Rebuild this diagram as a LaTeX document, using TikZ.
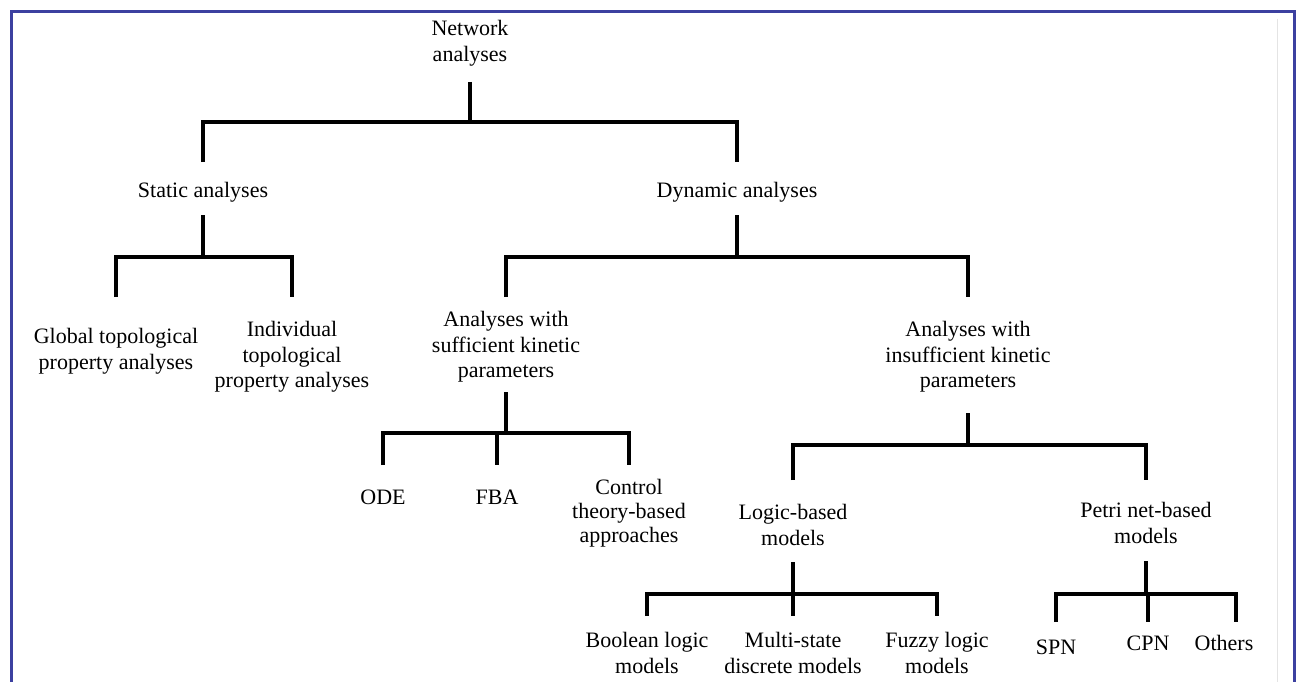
\documentclass[tikz,border=0pt]{standalone}
\usepackage{fontspec}
\setmainfont{Liberation Serif}
\definecolor{frameblue}{HTML}{3C40A0}
\definecolor{faintgray}{HTML}{E4E4E4}
\begin{document}
\begin{tikzpicture}[x=1pt,y=-1pt,
  lbl/.style={inner sep=0pt, align=center, font=\fontsize{22}{25.5}\selectfont},
  conn/.style={line width=4pt, black}]
\useasboundingbox (0,0) rectangle (1298,682);
\fill[white] (0,0) rectangle (1298,682);
% frame
\draw[frameblue, line width=3pt] (11,682) -- (11,11.5) -- (1294,11.5) -- (1294,682);
\draw[faintgray, line width=1pt] (1277,19) -- (1277,682);

% nodes
\node[lbl] (root) at (470,43) {Network\\analyses};
\node[lbl] (static) at (203,192) {Static analyses};
\node[lbl] (dynamic) at (737,192) {Dynamic analyses};
\node[lbl] (global) at (116,351) {Global topological\\property analyses};
\node[lbl] (indiv) at (292,357) {Individual\\topological\\property analyses};
\node[lbl] (suff) at (506,347) {Analyses with\\sufficient kinetic\\parameters};
\node[lbl] (insuff) at (968,357) {Analyses with\\insufficient kinetic\\parameters};
\node[lbl] (ode) at (383,497) {ODE};
\node[lbl] (fba) at (497,497) {FBA};
\node[lbl, font=\fontsize{22}{24}\selectfont] (control) at (629,513) {Control\\theory-based\\approaches};
\node[lbl] (logic) at (793,525) {Logic-based\\models};
\node[lbl] (petri) at (1146,523) {Petri net-based\\models};
\node[lbl] (bool) at (647,653) {Boolean logic\\models};
\node[lbl] (multi) at (793,653) {Multi-state\\discrete models};
\node[lbl] (fuzzy) at (937,653) {Fuzzy logic\\models};
\node[lbl] (spn) at (1056,647) {SPN};
\node[lbl] (cpn) at (1148,643) {CPN};
\node[lbl] (others) at (1224,643) {Others};
\coordinate (othersdrop) at (1236,643);

% connectors
\draw[conn] (root |- 0,82) -- (root |- 0,122);
\draw[conn] (static |- 0,162) -- (static |- 0,122) -- (dynamic |- 0,122) -- (dynamic |- 0,162);

\draw[conn] (static |- 0,215) -- (static |- 0,257);
\draw[conn] (global |- 0,297) -- (global |- 0,257) -- (indiv |- 0,257) -- (indiv |- 0,297);

\draw[conn] (dynamic |- 0,215) -- (dynamic |- 0,257);
\draw[conn] (suff |- 0,297) -- (suff |- 0,257) -- (insuff |- 0,257) -- (insuff |- 0,297);

\draw[conn] (suff |- 0,392) -- (suff |- 0,433);
\draw[conn] (ode |- 0,465) -- (ode |- 0,433) -- (control |- 0,433) -- (control |- 0,465);
\draw[conn] (fba |- 0,433) -- (fba |- 0,465);

\draw[conn] (insuff |- 0,413) -- (insuff |- 0,445);
\draw[conn] (logic |- 0,480) -- (logic |- 0,445) -- (petri |- 0,445) -- (petri |- 0,480);

\draw[conn] (logic |- 0,562) -- (logic |- 0,594);
\draw[conn] (bool |- 0,616) -- (bool |- 0,594) -- (fuzzy |- 0,594) -- (fuzzy |- 0,616);
\draw[conn] (multi |- 0,594) -- (multi |- 0,616);

\draw[conn] (petri |- 0,561) -- (petri |- 0,594);
\draw[conn] (spn |- 0,622) -- (spn |- 0,594) -- (othersdrop |- 0,594) -- (othersdrop |- 0,622);
\draw[conn] (cpn |- 0,594) -- (cpn |- 0,622);
\end{tikzpicture}
\end{document}
